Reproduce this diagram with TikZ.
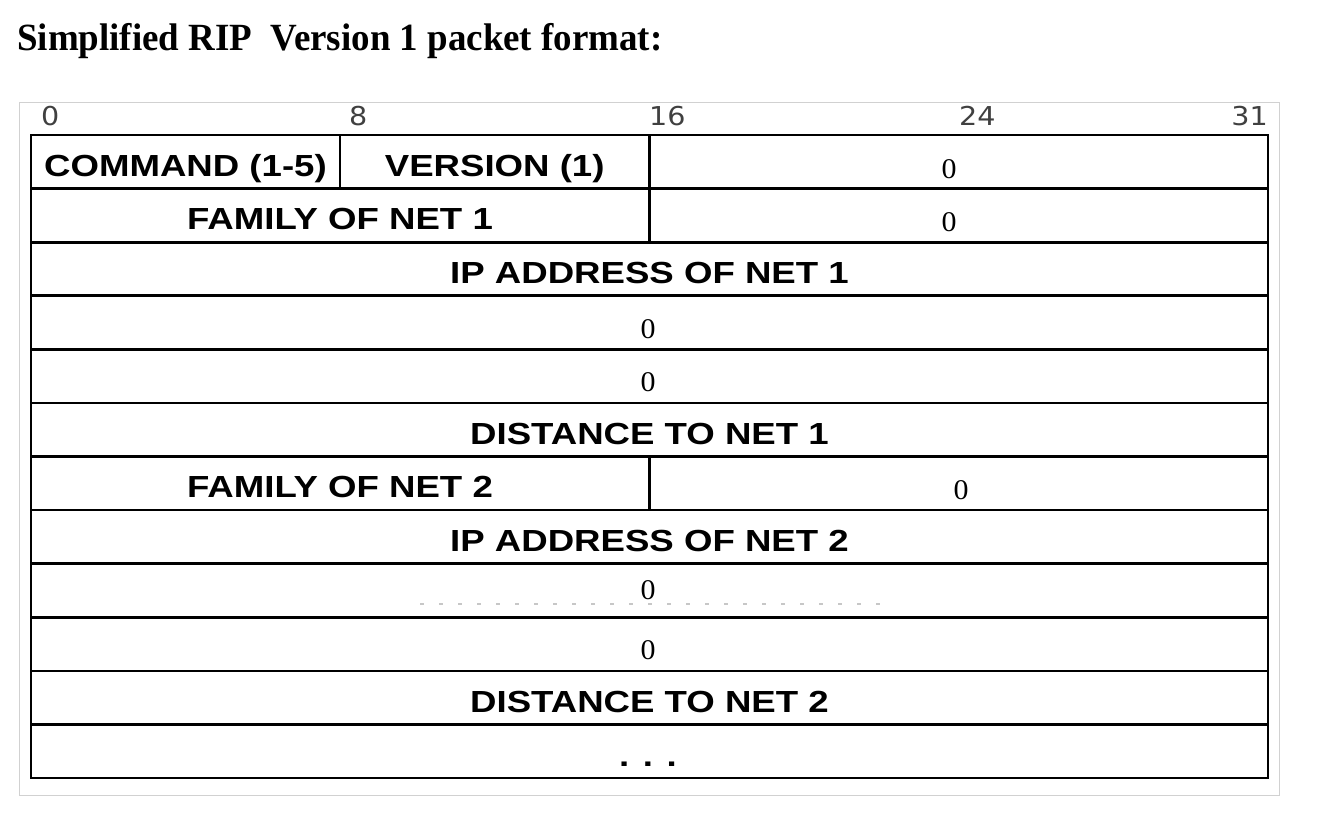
\documentclass[tikz,border=0pt]{standalone}
\usepackage{fontspec}
\usepackage{tikz}
\setmainfont{Liberation Serif}
\newfontfamily\titlefont[FakeStretch=0.96]{Liberation Serif}
\newfontfamily\fieldfont[FakeStretch=1.2]{Liberation Sans}
\newfontfamily\bitfont[FakeStretch=1.1]{DejaVu Sans}
\newfontfamily\zerofont[FakeStretch=1.05]{Liberation Serif}
\tikzstyle{every node}=[inner sep=0pt,anchor=base]
\tikzstyle{field}=[font=\fieldfont\bfseries\fontsize{30.5}{30.5}\selectfont]
\tikzstyle{zero}=[font=\zerofont\fontsize{28.5}{28.5}\selectfont]
\tikzstyle{bit}=[font=\bitfont\fontsize{26}{26}\selectfont,text=black!75,anchor=base west]
\tikzstyle{grid}=[line width=2.6pt,black]

\begin{document}
\begin{tikzpicture}[x=1pt,y=-1pt]
\useasboundingbox (0,0) rectangle (1320,820);
\draw (17,50)node[anchor=base west,font=\titlefont\bfseries\fontsize{38.5}{38.5}\selectfont](title){Simplified RIP\ \ Version 1 packet format:};
\draw[black!18,line width=1pt] (19.5,102) rectangle (1279,795);
% bit numbers
\draw (41,125.7)node[bit](b0){0};
\draw (349,125.7)node[bit](b8){8};
\draw (649,125.7)node[bit](b16){16};
\draw (959,125.7)node[bit](b24){24};
\draw (1268,125.7)node[bit,anchor=base east](b31){31};
% rows
\draw[grid] (31,135) rectangle (1268,778);
\draw[grid] (31,188.6)--(1268,188.6);
\draw[grid] (31,242.2)--(1268,242.2);
\draw[grid] (31,295.7)--(1268,295.7);
\draw[grid] (31,349.3)--(1268,349.3);
\draw[grid] (31,402.9)--(1268,402.9);
\draw[grid] (31,456.5)--(1268,456.5);
\draw[grid] (31,510.1)--(1268,510.1);
\draw[grid] (31,563.6)--(1268,563.6);
\draw[grid] (31,617.2)--(1268,617.2);
\draw[grid] (31,670.8)--(1268,670.8);
\draw[grid] (31,724.4)--(1268,724.4);
\draw[grid] (340,135)--(340,188.6);
\draw[grid] (649.5,135)--(649.5,242.2);
\draw[grid] (649.5,456.5)--(649.5,510.1);
% fields
\draw (185.5,176.3)node[field](command){COMMAND (1-5)};
\draw (494.7,176.3)node[field](version){VERSION (1)};
\draw (949,178)node[zero](zeroa){0};
\draw (340,229.9)node[field](fam1){FAMILY OF NET 1};
\draw (949,231.6)node[zero](zerob){0};
\draw (649.5,283.5)node[field](ip1){IP ADDRESS OF NET 1};
\draw (648,338)node[zero](zeroc){0};
\draw (648,391.6)node[zero](zerod){0};
\draw (649.5,444.2)node[field](dist1){DISTANCE TO NET 1};
\draw (340,497.8)node[field](fam2){FAMILY OF NET 2};
\draw (961,499.5)node[zero](zeroe){0};
\draw (649.5,551.4)node[field](ip2){IP ADDRESS OF NET 2};
\draw (648,599)node[zero](zerof){0};
\draw[black!22,line width=1.2pt,dash pattern=on 4pt off 15pt] (420,604)--(885,604);
\draw (648,659)node[zero](zerog){0};
\draw (649.5,712.3)node[field](dist2){DISTANCE TO NET 2};
\draw (648,766)node[field](more){. . .};
\end{tikzpicture}
\end{document}
